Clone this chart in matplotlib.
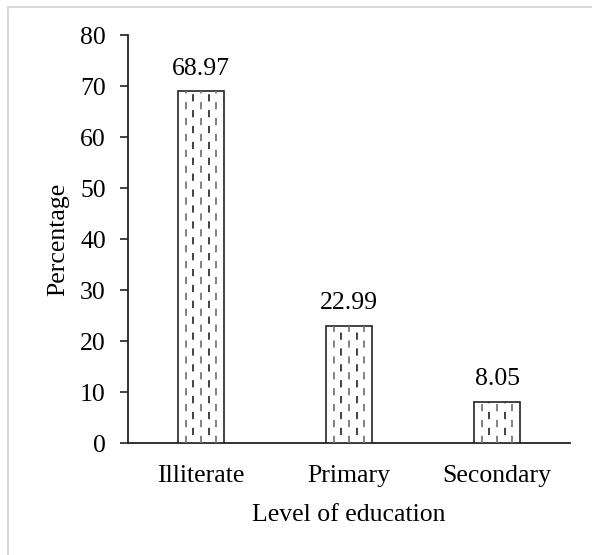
import matplotlib
matplotlib.use("Agg")
import matplotlib.pyplot as plt
from matplotlib.lines import Line2D

categories = ["Illiterate", "Primary", "Secondary"]
values = [68.97, 22.99, 8.05]
value_labels = ["68.97", "22.99", "8.05"]
yticks = [0, 10, 20, 30, 40, 50, 60, 70, 80]

plt.rcParams['font.family'] = ['Liberation Serif', 'DejaVu Serif']
FS = 18.5

fig = plt.figure(figsize=(5.92, 5.55), dpi=100)
ax = fig.add_axes([0.2162, 0.2018, 0.7466, 0.7351])

x = list(range(len(categories)))
bars = ax.bar(x, values, width=0.31, color='white', edgecolor='#222222', linewidth=1.2, zorder=3)

ax.set_xlim(-0.493, 2.493)
ax.set_ylim(0, 80)
ax.set_yticks(yticks)
ax.set_xticks(x)
ax.set_xticklabels(categories, fontsize=FS)
ax.tick_params(axis='x', length=0, pad=16)
ax.tick_params(axis='y', direction='out', length=6, width=1.2, labelsize=FS, pad=10, colors='#222222', labelcolor='black')
for s in ['top', 'right']:
    ax.spines[s].set_visible(False)
for s in ['left', 'bottom']:
    ax.spines[s].set_linewidth(1.3)
    ax.spines[s].set_color('#222222')

ax.set_ylabel("Percentage", fontsize=FS, labelpad=8)
ax.set_xlabel("Level of education", fontsize=FS, labelpad=12)

# staggered dashed hatch pattern inside bars
for b in bars:
    bx, bw, bh = b.get_x(), b.get_width(), b.get_height()
    n = 5
    for i in range(n):
        xx = bx + bw * (i + 1) / (n + 1)
        off = 0 if i % 2 == 0 else 4.4
        ln = Line2D([xx, xx], [0, bh], color='#333333' if i % 2 else '#777777', linewidth=1.3,
                    linestyle=(off, (4.0, 4.8)), zorder=4)
        ax.add_line(ln)

for b, lab in zip(bars, value_labels):
    ax.annotate(lab, (b.get_x() + b.get_width() / 2, b.get_height()),
                xytext=(0, 8.3), textcoords='offset points', ha='center', va='bottom', fontsize=FS)

# light gray frame
fig.add_artist(Line2D([0.0135, 0.0135], [0, 0.987], transform=fig.transFigure, color='#d9d9d9', linewidth=1.5))
fig.add_artist(Line2D([0.0135, 1.0], [0.987, 0.987], transform=fig.transFigure, color='#d9d9d9', linewidth=1.5))

fig.savefig("out.png", dpi=100)
